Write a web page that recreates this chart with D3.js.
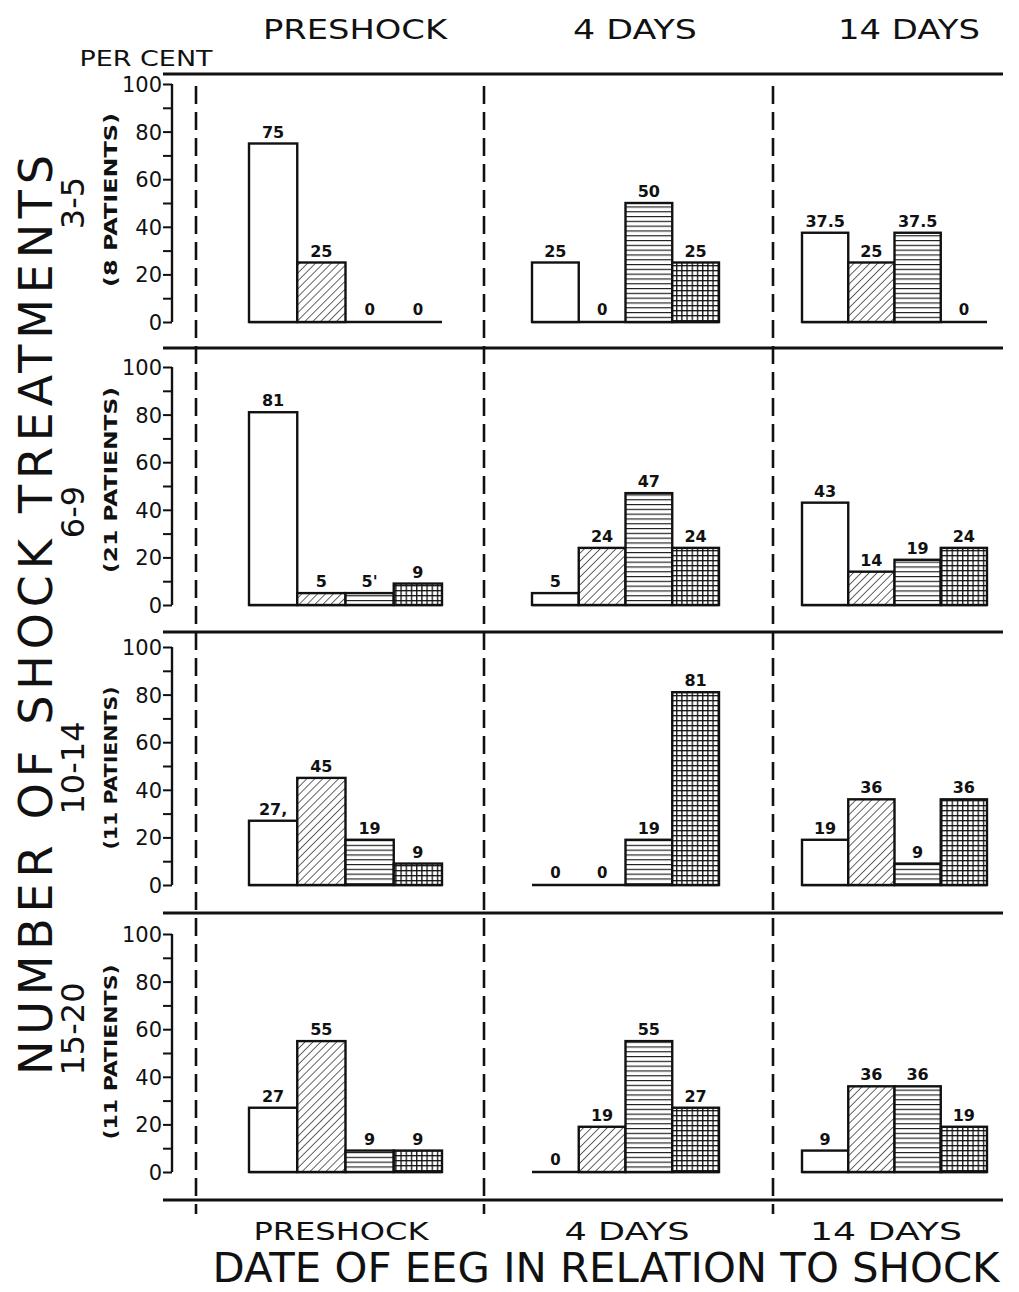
<!DOCTYPE html>
<html><head><meta charset="utf-8">
<script src="https://cdn.jsdelivr.net/npm/d3@7"></script>
<style>
body{margin:0;background:#fff}
svg{display:block}
text{font-family:"DejaVu Sans",sans-serif;fill:#111}
</style>
</head><body><svg id="c" width="1019" height="1292"></svg>
<script>
// ---------- DATA ----------
const periods = ["PRESHOCK", "4 DAYS", "14 DAYS"];
const groups = ["3-5", "6-9", "10-14", "15-20"];
const patients = ["(8 PATIENTS)", "(21 PATIENTS)", "(11 PATIENTS)", "(11 PATIENTS)"];
const categories = ["open", "diagonal", "horizontal", "crosshatch"];
// per group: one array per period, values per category (per cent)
const values_3_5   = [[75, 25, 0, 0], [25, 0, 50, 25], [37.5, 25, 37.5, 0]];
const values_6_9   = [[81, 5, 5, 9], [5, 24, 47, 24], [43, 14, 19, 24]];
const values_10_14 = [[27, 45, 19, 9], [0, 0, 19, 81], [19, 36, 9, 36]];
const values_15_20 = [[27, 55, 9, 9], [0, 19, 55, 27], [9, 36, 36, 19]];
const labelOverrides = {"6-9|PRESHOCK|horizontal": "5'", "10-14|PRESHOCK|open": "27,"};
const yTicks = [0, 10, 20, 30, 40, 50, 60, 70, 80, 90, 100];
const yTickLabels = {0: "0", 20: "20", 40: "40", 60: "60", 80: "80", 100: "100"};
const yUnit = "PER CENT";
const sideTitle = "NUMBER OF SHOCK TREATMENTS";
const xTitle = "DATE OF EEG IN RELATION TO SHOCK";

const allValues = [values_3_5, values_6_9, values_10_14, values_15_20];

// ---------- LAYOUT ----------
const svg = d3.select("#c");
const ink = "#111";
const rowBase = d3.scaleOrdinal(groups, [322, 605, 885, 1172]);
const rowHeight = 238;
const colExtent = d3.scaleOrdinal(periods, [[249, 442], [532, 719], [802, 987]]);
const colCenterTop = d3.scaleOrdinal(periods, [355, 635, 909]);
const colCenterBottom = d3.scaleOrdinal(periods, [341, 627, 886]);
const topWidths = d3.scaleOrdinal(periods, [184, 124, 142]);
const bottomWidths = d3.scaleOrdinal(periods, [175, 125, 152]);
const separators = [74, 348, 632, 913, 1200];
const dividers = [196, 484, 773];
const rowLabelCenter = d3.scaleOrdinal(groups, [203, 512, 768, 1029]);
const patCenter = d3.scaleOrdinal(groups, [200, 480, 768, 1052]);
const patLen = d3.scaleOrdinal(groups, [174, 186, 163, 175]);

// ---------- PATTERNS ----------
const defs = svg.append("defs");
const pd = defs.append("pattern").attr("id", "p-diagonal").attr("patternUnits", "userSpaceOnUse")
  .attr("width", 5.6).attr("height", 5.6).attr("patternTransform", "rotate(45)");
pd.append("rect").attr("width", 5.6).attr("height", 5.6).attr("fill", "#fff");
pd.append("line").attr("x1", 0).attr("y1", 0).attr("x2", 0).attr("y2", 5.6).attr("stroke", ink).attr("stroke-width", 1.3);
const ph = defs.append("pattern").attr("id", "p-horizontal").attr("patternUnits", "userSpaceOnUse")
  .attr("width", 10).attr("height", 4.8);
ph.append("rect").attr("width", 10).attr("height", 4.8).attr("fill", "#fff");
ph.append("line").attr("x1", 0).attr("y1", 0.6).attr("x2", 10).attr("y2", 0.6).attr("stroke", ink).attr("stroke-width", 1.1);
const pg = defs.append("pattern").attr("id", "p-crosshatch").attr("patternUnits", "userSpaceOnUse")
  .attr("width", 5.2).attr("height", 5);
pg.append("rect").attr("width", 5.2).attr("height", 5).attr("fill", "#fff");
pg.append("line").attr("x1", 0).attr("y1", 0.7).attr("x2", 5.2).attr("y2", 0.7).attr("stroke", ink).attr("stroke-width", 1.3);
pg.append("line").attr("x1", 0.7).attr("y1", 0).attr("x2", 0.7).attr("y2", 5).attr("stroke", ink).attr("stroke-width", 1.3);
const fillFor = d3.scaleOrdinal(categories, ["#fff", "url(#p-diagonal)", "url(#p-horizontal)", "url(#p-crosshatch)"]);

// ---------- FRAME ----------
svg.append("g").selectAll("line").data(separators).join("line")
  .attr("x1", 163).attr("x2", 1003).attr("y1", d => d).attr("y2", d => d)
  .attr("stroke", ink).attr("stroke-width", 3.2);
svg.append("g").selectAll("line").data(dividers).join("line")
  .attr("x1", d => d).attr("x2", d => d).attr("y1", 86).attr("y2", 1214)
  .attr("stroke", ink).attr("stroke-width", 2.6).attr("stroke-dasharray", "18 8");

// column headings
svg.append("g").selectAll("text").data(periods).join("text")
  .attr("x", d => colCenterTop(d)).attr("y", 39).attr("text-anchor", "middle")
  .attr("font-size", 27).attr("textLength", d => topWidths(d)).attr("lengthAdjust", "spacingAndGlyphs")
  .text(d => d);
svg.append("g").selectAll("text").data(periods).join("text")
  .attr("x", d => colCenterBottom(d)).attr("y", 1240).attr("text-anchor", "middle")
  .attr("font-size", 25).attr("textLength", d => bottomWidths(d)).attr("lengthAdjust", "spacingAndGlyphs")
  .text(d => d);
svg.append("text").attr("x", 606).attr("y", 1282).attr("text-anchor", "middle")
  .attr("font-size", 40).attr("textLength", 787).attr("lengthAdjust", "spacingAndGlyphs").text(xTitle);
svg.append("text").attr("x", 146).attr("y", 66).attr("text-anchor", "middle")
  .attr("font-size", 22).attr("textLength", 133).attr("lengthAdjust", "spacingAndGlyphs").text(yUnit);
svg.append("text").attr("transform", "translate(52,615) rotate(-90)").attr("text-anchor", "middle")
  .attr("font-size", 46).attr("textLength", 920).attr("lengthAdjust", "spacing").text(sideTitle);

// ---------- ROWS ----------
groups.forEach((g, gi) => {
  const base = rowBase(g);
  const y = d3.scaleLinear().domain([0, 100]).range([base, base - rowHeight]);
  const row = svg.append("g");

  // row labels
  row.append("text").attr("transform", `translate(84,${rowLabelCenter(g)}) rotate(-90)`)
    .attr("text-anchor", "middle").attr("font-size", 32).text(g);
  row.append("text").attr("transform", `translate(117,${patCenter(g)}) rotate(-90)`)
    .attr("text-anchor", "middle").attr("font-size", 18).attr("font-weight", "bold")
    .attr("textLength", patLen(g)).attr("lengthAdjust", "spacingAndGlyphs").text(patients[gi]);

  // axis
  const axis = d3.axisLeft(y).tickValues(yTicks).tickSize(9).tickPadding(1)
    .tickFormat(d => yTickLabels[d] || "");
  const ag = row.append("g").attr("transform", "translate(172,0)").call(axis);
  ag.select(".domain").attr("stroke", ink).attr("stroke-width", 2.4).attr("d", `M0,${y(0)}V${y(100)}`);
  ag.selectAll(".tick line").attr("stroke", ink).attr("stroke-width", 2);
  ag.selectAll(".tick text").attr("font-size", 21).attr("fill", ink).attr("font-family", "DejaVu Sans").attr("dy", "0.36em");

  periods.forEach((p, pi) => {
    const vals = allValues[gi][pi];
    const x = d3.scaleBand().domain(categories).range(colExtent(p)).padding(0);
    const data = categories.map((c, ci) => ({c, v: vals[ci]}));
    const pg = row.append("g");
    // baseline
    pg.append("line").attr("x1", colExtent(p)[0]).attr("x2", colExtent(p)[1])
      .attr("y1", y(0)).attr("y2", y(0)).attr("stroke", ink).attr("stroke-width", 2.6);
    pg.selectAll("rect").data(data.filter(d => d.v > 0)).join("rect")
      .attr("x", d => x(d.c)).attr("width", x.bandwidth())
      .attr("y", d => y(d.v)).attr("height", d => y(0) - y(d.v))
      .attr("fill", d => fillFor(d.c)).attr("stroke", ink).attr("stroke-width", 2.4);
    pg.selectAll("text").data(data).join("text")
      .attr("x", d => x(d.c) + x.bandwidth() / 2)
      .attr("y", d => d.v > 0 ? y(d.v) - 6 : y(0) - 7)
      .attr("text-anchor", "middle").attr("font-size", d => d.v > 0 ? 16 : 15).attr("font-weight", "bold")
      .text(d => labelOverrides[`${g}|${p}|${d.c}`] || String(d.v));
  });
});
</script>
</body></html>
